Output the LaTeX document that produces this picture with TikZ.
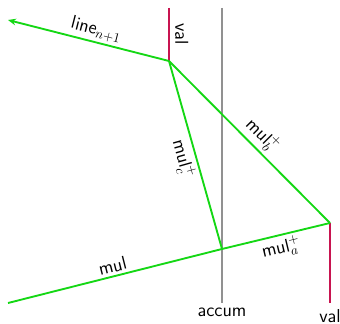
\documentclass[tikz,border=0pt]{standalone}
\usetikzlibrary{arrows.meta}
\definecolor{lgreen}{RGB}{20,215,20}
\definecolor{valred}{RGB}{200,20,80}
\definecolor{accgray}{RGB}{145,145,145}
\begin{document}
\begin{tikzpicture}[x=0.75pt,y=-0.75pt,
  wire/.style={lgreen,line width=1.4pt},
  valline/.style={valred,line width=1.4pt},
  accline/.style={accgray,line width=1.5pt},
  lbl/.style={text=black,font=\fontsize{14}{16}\selectfont\sffamily,inner sep=2pt},
  >={Stealth[length=6pt,width=5pt]}]
\useasboundingbox (0,0) rectangle (340,324);
\coordinate (P) at (169,61);
\coordinate (R) at (330,223);
\coordinate (A) at (222,249);
\coordinate (Ltop) at (169,8);
\coordinate (Rbot) at (330,303);
\coordinate (Gtop) at (222,8);
\coordinate (Gbot) at (222,303);
\coordinate (S) at (8,303);
\coordinate (E) at (8,20);
\draw[accline] (Gtop) -- (Gbot) node[lbl,below,inner sep=3pt] (accum) {accum};
\draw[valline] (Ltop) -- (P);
\node[lbl,anchor=south,inner sep=3pt,rotate=-90] (val1) at (171,34) {val};
\draw[valline] (R) -- (Rbot) node[lbl,below,inner sep=4pt] (val2) {val};
\draw[wire,->] (P) -- node[lbl,sloped,above,pos=0.47] (ln) {line$_{n+1}$} (E);
\draw[wire] (P) -- node[lbl,sloped,above,pos=0.52] (mb) {mul$_b^+$} (R);
\draw[wire] (P) -- node[lbl,sloped,below,pos=0.5] (mc) {mul$_c^+$} (A);
\draw[wire] (S) -- node[lbl,sloped,above,pos=0.5] (mul) {mul} (A);
\draw[wire] (A) -- node[lbl,sloped,below,pos=0.52] (ma) {mul$_a^+$} (R);
\end{tikzpicture}
\end{document}
